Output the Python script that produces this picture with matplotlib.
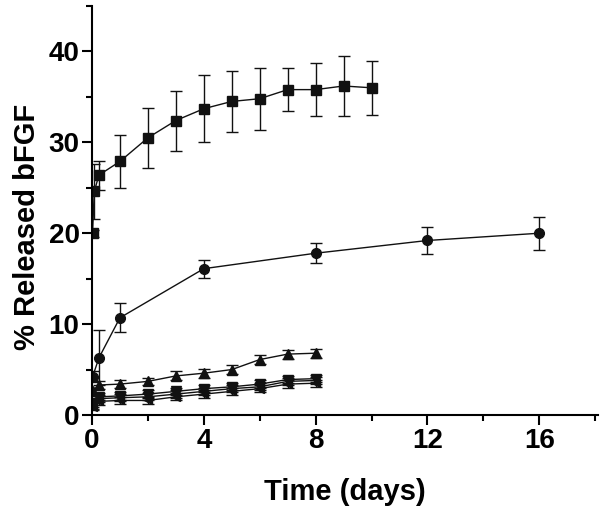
import numpy as np
import matplotlib.pyplot as plt
from matplotlib.ticker import MultipleLocator

# data
t_square = [0.02, 0.08, 0.25, 1, 2, 3, 4, 5, 6, 7, 8, 9, 10]
y_square = [20.0, 24.6, 26.4, 27.9, 30.5, 32.4, 33.7, 34.5, 34.8, 35.8, 35.8, 36.2, 36.0]
e_square = [0.4, 3.0, 1.6, 2.9, 3.3, 3.3, 3.7, 3.4, 3.4, 2.4, 2.9, 3.3, 3.0]

t_circle = [0.02, 0.25, 1, 4, 8, 12, 16]
y_circle = [4.2, 6.3, 10.7, 16.1, 17.8, 19.2, 20.0]
e_circle = [0.6, 3.0, 1.6, 1.0, 1.1, 1.5, 1.8]

t_low = [0.02, 0.25, 1, 2, 3, 4, 5, 6, 7, 8]
y_up = [2.6, 3.3, 3.4, 3.7, 4.3, 4.6, 5.0, 6.1, 6.7, 6.8]
e_up = [0.4, 0.4, 0.4, 0.4, 0.5, 0.5, 0.5, 0.5, 0.5, 0.5]
y_down1 = [1.3, 2.0, 2.1, 2.3, 2.6, 2.9, 3.1, 3.4, 3.9, 4.0]
y_down2 = [1.1, 1.8, 1.9, 2.0, 2.3, 2.6, 2.9, 3.1, 3.7, 3.8]
y_down3 = [0.9, 1.5, 1.6, 1.6, 2.0, 2.3, 2.6, 2.9, 3.4, 3.5]
e_down = [0.4, 0.4, 0.4, 0.4, 0.4, 0.4, 0.4, 0.4, 0.4, 0.4]

font = "Liberation Sans"
tick_size = 20
label_size = 21

fig = plt.figure(figsize=(6, 5.16), dpi=100)
ax = fig.add_axes([92 / 600, 101 / 516, 506 / 600, 409 / 516])

err_kw = dict(color="#111111", lw=1.0, elinewidth=1.0, capsize=4, capthick=1.0)

ax.errorbar(t_square, y_square, yerr=e_square, marker="s", ms=7, **err_kw)
ax.errorbar(t_circle, y_circle, yerr=e_circle, marker="o", ms=7, **err_kw)
ax.errorbar(t_low, y_up, yerr=e_up, marker="^", ms=7, **err_kw)
ax.errorbar(t_low, y_down1, yerr=e_down, marker="v", ms=7, **err_kw)
ax.errorbar(t_low, y_down2, yerr=e_down, marker="v", ms=7, **err_kw)
ax.errorbar(t_low, y_down3, yerr=e_down, marker="<", ms=6, **err_kw)

ax.set_xlim(0, 18.1)
ax.set_ylim(0, 45)

ax.xaxis.set_major_locator(MultipleLocator(4))
ax.xaxis.set_minor_locator(MultipleLocator(2))
ax.yaxis.set_major_locator(MultipleLocator(10))
ax.yaxis.set_minor_locator(MultipleLocator(5))

for side in ["top", "right"]:
    ax.spines[side].set_visible(False)
for side in ["left", "bottom"]:
    ax.spines[side].set_linewidth(1.5)

ax.tick_params(which="major", direction="out", length=7, width=1.5, pad=2)
ax.tick_params(which="minor", direction="out", length=4, width=1.5)

for lab in ax.get_xticklabels() + ax.get_yticklabels():
    lab.set_fontfamily(font)
    lab.set_fontweight("bold")
    lab.set_fontsize(tick_size)

ax.set_xlabel("Time (days)", fontfamily=font, fontweight="bold",
              fontsize=label_size, labelpad=18)
ax.set_ylabel("% Released bFGF", fontfamily=font, fontweight="bold",
              fontsize=label_size)
ax.yaxis.set_label_coords(-0.10, 0.46)

fig.savefig("out.png", dpi=100)
